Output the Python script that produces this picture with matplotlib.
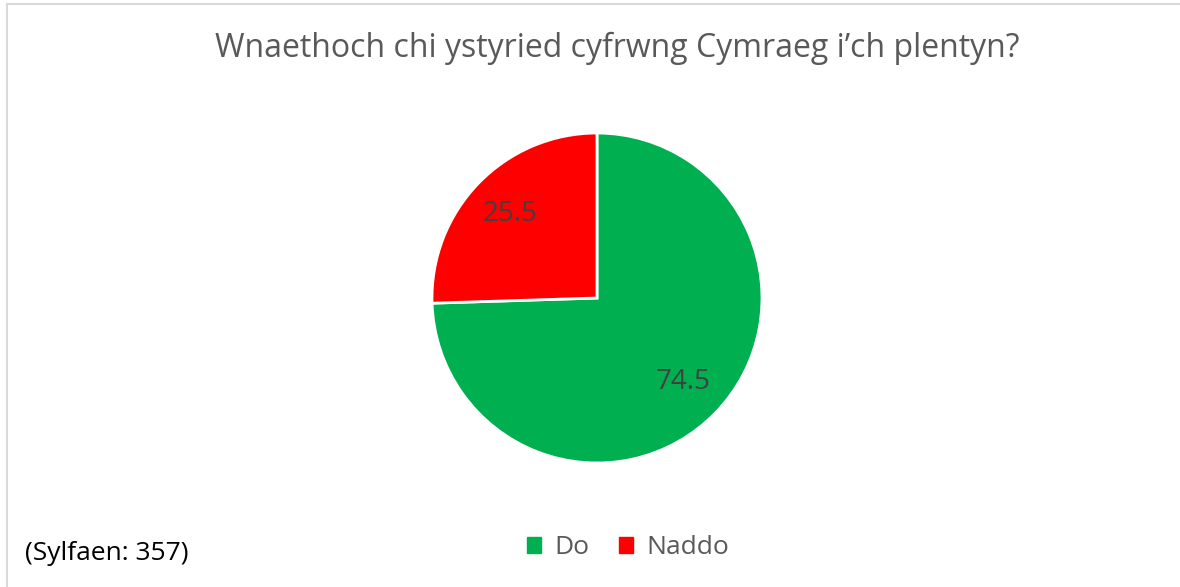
import matplotlib
matplotlib.use("Agg")
import matplotlib.pyplot as plt
from matplotlib.lines import Line2D
from matplotlib.patches import Patch

# data
categories = ["Do", "Naddo"]
values = [74.5, 25.5]
colors = ["#00b050", "#ff0000"]
title = "Wnaethoch chi ystyried cyfrwng Cymraeg i\u2019ch plentyn?"
note = "(Sylfaen: 357)"

plt.rcParams["font.family"] = ["Open Sans", "DejaVu Sans"]

fig = plt.figure(figsize=(11.8, 5.87), dpi=100)
fig.patch.set_facecolor("white")

# chart border (top and left visible)
fig.add_artist(Line2D([7 / 1180, 1.0], [1 - 4 / 587, 1 - 4 / 587],
                      transform=fig.transFigure, color="#d9d9d9", lw=1.5))
fig.add_artist(Line2D([7 / 1180, 7 / 1180], [0.0, 1 - 4 / 587],
                      transform=fig.transFigure, color="#d9d9d9", lw=1.5))

cx, cy, r = 597, 298, 165
ax = fig.add_axes([(cx - r) / 1180, (587 - cy - r) / 587, 2 * r / 1180, 2 * r / 587])
wedges, texts, autotexts = ax.pie(
    values, colors=colors, startangle=90, counterclock=False,
    autopct=lambda p: f"{p:.1f}", pctdistance=0.73, radius=1.0,
    wedgeprops=dict(edgecolor="white", linewidth=2),
    textprops=dict(fontsize=20, color="#404040"),
)
ax.set_xlim(-1.0, 1.0)
ax.set_ylim(-1.0, 1.0)
ax.set_aspect("equal")
ax.axis("off")

fig.text(617 / 1180, 1 - 48 / 587, title, ha="center", va="center",
         fontsize=23, color="#595959")

handles = [Patch(facecolor=c, edgecolor=c) for c in colors]
fig.legend(handles, categories, loc="center", bbox_to_anchor=(628 / 1180, 1 - 548 / 587),
           ncol=2, frameon=False, fontsize=19, labelcolor="#595959",
           handlelength=0.55, handleheight=0.55, handletextpad=0.5, columnspacing=1.1)

fig.text(25 / 1180, 1 - 553 / 587, note, ha="left", va="center",
         fontsize=19, color="black")

fig.savefig("out.png", dpi=100, facecolor="white")
